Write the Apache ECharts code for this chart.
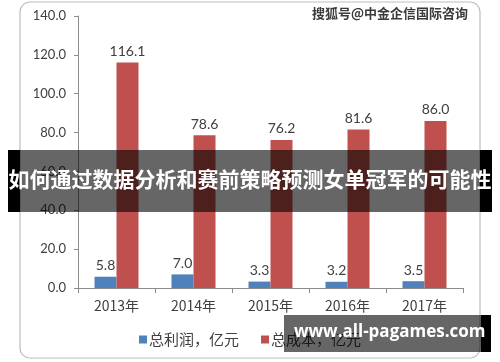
<!DOCTYPE html>
<html><head><meta charset="utf-8">
<script src="https://cdn.jsdelivr.net/npm/echarts@6/dist/echarts.min.js"></script>
<style>html,body{margin:0;padding:0;background:#fff}#c{width:500px;height:362px}</style>
</head><body><div id="c"></div>
<script>
const categories = ['2013年','2014年','2015年','2016年','2017年'];
const profit = [5.8, 7.0, 3.3, 3.2, 3.5];
const cost = [116.1, 78.6, 76.2, 81.6, 86.0];
const seriesNames = ['总利润，亿元','总成本，亿元'];
const yTicks = {min:0, max:140, interval:20};
const sourceText = '搜狐号@中金企信国际咨询';
const bannerText = '如何通过数据分析和赛前策略预测女单冠军的可能性';
const siteText = 'www.all-pagames.com';

const chart = echarts.init(document.getElementById('c'), null, {renderer:'canvas'});
const numFont = 'Lato, "Open Sans", sans-serif';
const cjk = '"Noto Sans CJK SC", sans-serif';
chart.setOption({
  animation:false,
  backgroundColor:'#fff',
  grid:{left:78, right:37, top:16, bottom:74},
  xAxis:{type:'category', data:categories,
    axisLine:{lineStyle:{color:'#8c8c8c'}},
    axisTick:{show:true, length:5, lineStyle:{color:'#8c8c8c'}},
    axisLabel:{color:'#404040', fontSize:14, fontFamily:cjk, margin:11}},
  yAxis:{type:'value', min:yTicks.min, max:yTicks.max, interval:yTicks.interval,
    axisLine:{show:true, lineStyle:{color:'#8c8c8c'}},
    axisTick:{show:true, length:4, lineStyle:{color:'#8c8c8c'}},
    splitLine:{show:false},
    axisLabel:{color:'#404040', fontSize:13, fontFamily:numFont, margin:12,
      formatter:v=>v.toFixed(1)}},
  legend:{top:327, left:'center', itemWidth:8, itemHeight:8, itemGap:22,
    icon:'rect', textStyle:{fontSize:15, fontFamily:cjk, color:'#404040', padding:[0,0,0,-3]},
    data:seriesNames},
  series:[
    {name:seriesNames[0], type:'bar', data:profit, barWidth:22, barGap:'0%',
      itemStyle:{color:'#4F81BD'},
      label:{show:true, position:'top', distance:4, color:'#404040', fontSize:14, fontFamily:numFont, formatter:p=>p.value.toFixed(1)}},
    {name:seriesNames[1], type:'bar', data:cost, barWidth:22, barGap:'0%',
      itemStyle:{color:'#C0504D'},
      label:{show:true, position:'top', distance:4, color:'#404040', fontSize:14, fontFamily:numFont, formatter:p=>p.value.toFixed(1)}}
  ],
  graphic:[
    {type:'rect', z:-10, shape:{x:20, y:2, width:460, height:356, r:10}, style:{fill:null, stroke:'#bdbdbd', lineWidth:1.2}},
    {type:'text', z:50, right:32, top:7, style:{text:sourceText, fill:'#3a3a3a', font:'bold 13px "Noto Sans CJK SC", sans-serif'}},
    {type:'rect', z:100, shape:{x:8, y:150, width:12, height:62}, style:{fill:'#000'}},
    {type:'rect', z:100, shape:{x:480, y:150, width:12, height:62}, style:{fill:'#000'}},
    {type:'rect', z:100, shape:{x:20, y:150, width:460, height:62}, style:{fill:'rgba(0,0,0,0.6)'}},
    {type:'text', z:101, left:'center', top:169, style:{text:bannerText, fill:'#fff', font:'bold 21px "Noto Sans CJK SC", sans-serif'}},
    {type:'rect', z:100, shape:{x:481, y:315, width:10, height:37}, style:{fill:'#000'}},
    {type:'rect', z:100, shape:{x:284, y:315, width:197, height:37}, style:{fill:'rgba(0,0,0,0.6)'}},
    {type:'text', z:101, left:294, top:324, style:{text:siteText, fill:'#fff', font:'bold 17px "Open Sans", sans-serif'}}
  ]
});
</script></body></html>
